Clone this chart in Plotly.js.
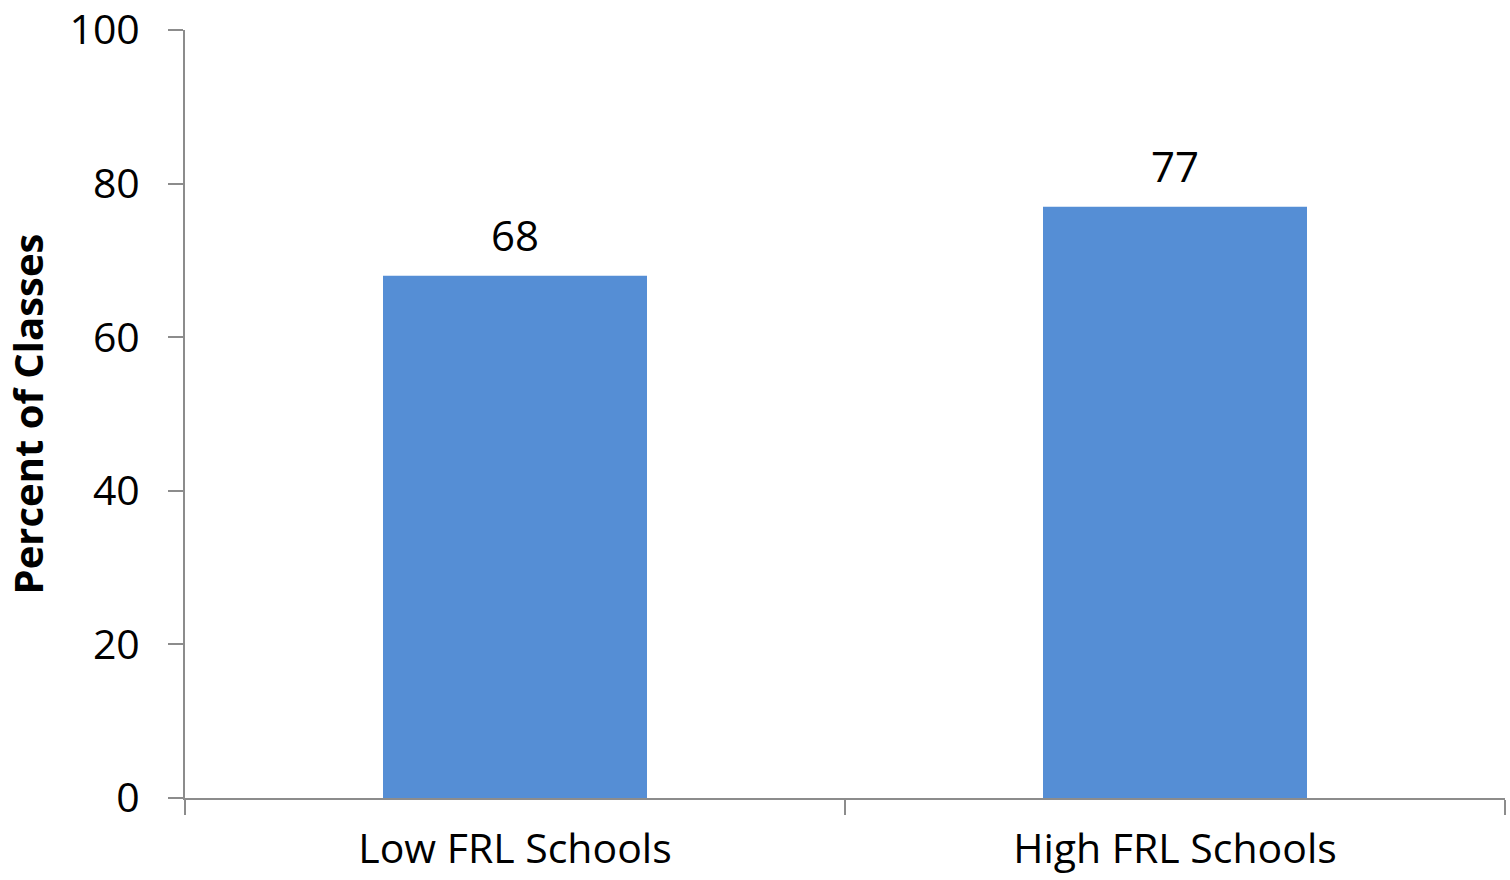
<!DOCTYPE html>
<html>
<head>
<meta charset="utf-8">
<script src="https://cdn.plot.ly/plotly-3.0.1.min.js"></script>
<style>html,body{margin:0;padding:0;background:#fff;}#chart{width:1510px;height:880px;}</style>
</head>
<body>
<div id="chart"></div>
<script>
const categories = ["Low FRL Schools", "High FRL Schools"];
const percentValues = [68, 77];
const valueLabels = ["68", "77"];
const yTickValues = [0, 20, 40, 60, 80, 100];

const FONT = "Open Sans, Noto Sans, sans-serif";

const trace = {
  type: "bar",
  x: categories,
  y: percentValues,
  width: 0.4,
  marker: {color: "#558ed5", line: {width: 0}},
  hoverinfo: "x+y"
};

const annotations = categories.map((c, i) => ({
  x: c,
  y: percentValues[i],
  xref: "x",
  yref: "y",
  text: valueLabels[i],
  showarrow: false,
  yanchor: "bottom",
  yshift: 11,
  font: {family: FONT, size: 42, color: "#000"}
}));

const layout = {
  width: 1510,
  height: 880,
  margin: {l: 185, r: 5, t: 30, b: 82},
  paper_bgcolor: "#fff",
  plot_bgcolor: "#fff",
  showlegend: false,
  font: {family: FONT, color: "#000"},
  annotations: annotations,
  xaxis: {
    type: "category",
    range: [-0.5, 1.5],
    showline: true,
    linecolor: "#8c8c8c",
    linewidth: 2,
    ticks: "outside",
    tickson: "boundaries",
    ticklen: 15,
    tickwidth: 2,
    tickcolor: "#8c8c8c",
    tickfont: {family: FONT, size: 41, color: "#000"},
    ticklabelstandoff: 14,
    ticklabeloverflow: "allow",
    showgrid: false,
    zeroline: false,
    fixedrange: true
  },
  yaxis: {
    range: [0, 100],
    tickvals: yTickValues,
    ticktext: yTickValues.map(String),
    showline: true,
    linecolor: "#8c8c8c",
    linewidth: 2,
    ticks: "outside",
    ticklen: 15,
    tickwidth: 2,
    tickcolor: "#8c8c8c",
    tickfont: {family: FONT, size: 41, color: "#000"},
    ticklabelstandoff: 20,
    ticklabeloverflow: "allow",
    showgrid: false,
    zeroline: false,
    title: {text: "<b>Percent of Classes</b>", font: {family: FONT, size: 40, color: "#000"}, standoff: 13},
    fixedrange: true
  }
};

Plotly.newPlot("chart", [trace], layout, {displayModeBar: false, staticPlot: true});
</script>
</body>
</html>
